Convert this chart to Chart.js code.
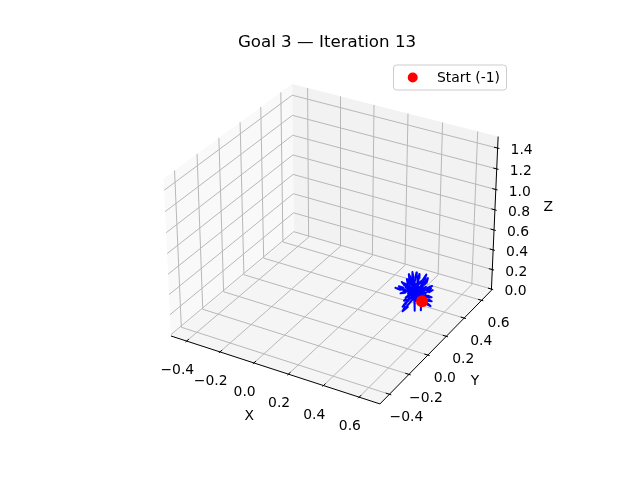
<!DOCTYPE html>
<html>
<head>
<meta charset="utf-8">
<title>Goal 3 — Iteration 13</title>
<script src="https://cdn.jsdelivr.net/npm/chart.js@4.4.1/dist/chart.umd.min.js"></script>
<style>
  html, body { margin: 0; padding: 0; background: #ffffff; }
  #wrap { width: 640px; height: 480px; }
</style>
</head>
<body>
<div id="wrap"><canvas id="chart" width="640" height="480"></canvas></div>
<script>
// pane box limits of the 3D axes
const xLim = [-0.495, 0.715];
const yLim = [-0.495, 0.715];
const zLim = [-0.013, 1.51];

// ticks and their labels
const xTicks = [-0.4, -0.2, 0.0, 0.2, 0.4, 0.6];
const yTicks = [-0.4, -0.2, 0.0, 0.2, 0.4, 0.6];
const zTicks = [0.0, 0.2, 0.4, 0.6, 0.8, 1.0, 1.2, 1.4];
const xTickLabels = ['−0.4', '−0.2', '0.0', '0.2', '0.4', '0.6'];
const yTickLabels = ['−0.4', '−0.2', '0.0', '0.2', '0.4', '0.6'];
const zTickLabels = ['0.0', '0.2', '0.4', '0.6', '0.8', '1.0', '1.2', '1.4'];

// start point (index -1)
const startX = [0.5];
const startY = [0.34];
const startZ = [0.1];

// quiver: arrow tails and direction vectors
const tailX = [0.46, 0.47, 0.45, 0.48, 0.46, 0.49, 0.44, 0.47, 0.45, 0.48,
               0.46, 0.47, 0.49, 0.45, 0.47, 0.46, 0.45, 0.47, 0.46, 0.48,
               0.44, 0.47, 0.46, 0.45, 0.48, 0.46, 0.47, 0.45, 0.49, 0.44,
               0.46, 0.47, 0.45, 0.48, 0.46, 0.47, 0.45, 0.48, 0.46, 0.47,
               0.45, 0.46, 0.44, 0.46, 0.45, 0.47, 0.44, 0.46, 0.45, 0.47,
               0.43, 0.46, 0.45, 0.47, 0.44, 0.46, 0.45, 0.46, 0.47, 0.44,
               0.45, 0.46];
const tailY = [0.34, 0.35, 0.33, 0.36, 0.34, 0.35, 0.35, 0.33, 0.36, 0.32,
               0.37, 0.34, 0.33, 0.34, 0.35, 0.32, 0.35, 0.36, 0.33, 0.34,
               0.33, 0.32, 0.36, 0.33, 0.35, 0.35, 0.33, 0.36, 0.34, 0.34,
               0.33, 0.37, 0.32, 0.33, 0.34, 0.36, 0.35, 0.35, 0.31, 0.34,
               0.35, 0.34, 0.36, 0.36, 0.33, 0.35, 0.34, 0.37, 0.34, 0.33,
               0.35, 0.35, 0.36, 0.34, 0.33, 0.33, 0.37, 0.34, 0.36, 0.35,
               0.35, 0.36];
const tailZ = [0.16, 0.15, 0.17, 0.14, 0.13, 0.12, 0.18, 0.15, 0.16, 0.17,
               0.12, 0.19, 0.13, 0.14, 0.17, 0.15, 0.15, 0.16, 0.18, 0.13,
               0.16, 0.14, 0.14, 0.12, 0.18, 0.17, 0.12, 0.18, 0.15, 0.15,
               0.14, 0.15, 0.16, 0.16, 0.19, 0.13, 0.13, 0.15, 0.16, 0.14,
               0.19, 0.21, 0.17, 0.20, 0.18, 0.20, 0.20, 0.18, 0.22, 0.17,
               0.16, 0.15, 0.14, 0.16, 0.19, 0.20, 0.16, 0.17, 0.18, 0.21,
               0.18, 0.17];
const vecU = [-0.05, 0.03, -0.09, 0.08, -0.04, 0.02, -0.02, 0.06, -0.07, -0.03,
              0.05, -0.06, 0.07, -0.02, 0.01, 0.04, -0.08, 0.04, -0.03, 0.05,
              -0.05, -0.01, 0.03, -0.06, 0.06, -0.04, 0.02, -0.06, 0.05, -0.03,
              0.02, -0.05, -0.04, 0.07, 0.01, -0.03, 0.03, -0.07, 0.03, -0.02,
              -0.04, 0.02, -0.05, -0.02, 0.03, 0.04, -0.03, 0.03, -0.02, -0.04,
              -0.03, 0.05, -0.04, 0.03, -0.02, 0.02, 0.04, -0.05, 0.02, 0.03,
              -0.03, 0.00];
const vecV = [0.02, 0.05, -0.02, -0.03, -0.06, -0.04, 0.08, 0.04, 0.05, -0.05,
              0.06, 0.03, -0.01, -0.08, 0.07, -0.07, 0.01, 0.02, 0.04, 0.05,
              -0.04, -0.06, -0.02, 0.02, 0.01, -0.03, 0.06, -0.05, -0.05, 0.07,
              -0.03, -0.01, 0.03, 0.03, -0.04, 0.05, -0.06, -0.02, 0.04, 0.03,
              0.02, 0.03, -0.01, 0.04, -0.03, 0.01, -0.03, 0.03, 0.02, 0.03,
              0.03, -0.02, -0.03, 0.04, 0.05, -0.04, -0.02, 0.01, 0.05, -0.02,
              0.03, 0.02];
const vecW = [0.15, 0.13, 0.02, 0.04, -0.12, -0.08, 0.09, -0.02, -0.05, 0.11,
              0.06, 0.07, -0.03, -0.06, 0.12, 0.05, 0.06, -0.09, 0.10, -0.06,
              0.08, 0.09, 0.10, -0.08, 0.05, 0.13, -0.10, -0.03, 0.03, -0.04,
              -0.11, 0.09, -0.07, 0.06, 0.08, -0.06, 0.04, 0.05, 0.07, -0.09,
              0.05, 0.06, 0.03, 0.07, -0.05, -0.04, 0.06, 0.05, 0.07, -0.05,
              0.04, 0.02, -0.04, 0.05, -0.03, 0.05, -0.05, -0.02, -0.03, 0.06,
              0.14, 0.15];

// ---- view (elev 30, azim -60, perspective) ----
const elev = 30 * Math.PI / 180;
const azim = -60 * Math.PI / 180;
const dist = 10;
const aspect = [4, 4, 3];
const aspNorm = Math.hypot(aspect[0], aspect[1], aspect[2]);
const box = aspect.map(a => a / aspNorm * 1.8294640721620434);
const R = box.map(b => b / 2);

const dot = (a, b) => a[0] * b[0] + a[1] * b[1] + a[2] * b[2];
const cross = (a, b) => [a[1] * b[2] - a[2] * b[1], a[2] * b[0] - a[0] * b[2], a[0] * b[1] - a[1] * b[0]];
const unit = a => { const n = Math.hypot(a[0], a[1], a[2]); return a.map(c => c / n); };

const w = [Math.cos(elev) * Math.cos(azim), Math.cos(elev) * Math.sin(azim), Math.sin(elev)];
const eye = R.map((r, i) => r + dist * w[i]);
const u = unit(cross([0, 0, 1], w));
const v = cross(w, u);

function project(x, y, z) {
  const p = [
    (x - xLim[0]) / (xLim[1] - xLim[0]) * box[0],
    (y - yLim[0]) / (yLim[1] - yLim[0]) * box[1],
    (z - zLim[0]) / (zLim[1] - zLim[0]) * box[2]
  ];
  const d = [p[0] - eye[0], p[1] - eye[1], p[2] - eye[2]];
  const depth = -dot(d, w);
  return { x: dot(d, u) / depth, y: dot(d, v) / depth };
}

// where the projected view sits on the canvas
const viewScale = 2096;
const viewCx = 334;
const viewCy = 236.6;

// ---- datasets ----
const datasets = [];

function addLine(pts, color, width, order, extra) {
  datasets.push(Object.assign({
    data: pts.map(p => project(p[0], p[1], p[2])),
    showLine: true,
    borderColor: color,
    borderWidth: width,
    pointRadius: 0,
    fill: false,
    order: order
  }, extra || {}));
}

function addPane(pts, color) {
  addLine(pts.concat([pts[0]]), color, 0, 9, { fill: 'shape', backgroundColor: color });
}

const [x0, x1] = xLim, [y0, y1] = yLim, [z0, z1] = zLim;

// panes
addPane([[x0, y0, z0], [x0, y1, z0], [x0, y1, z1], [x0, y0, z1]], '#f9f9f9');
addPane([[x0, y1, z0], [x1, y1, z0], [x1, y1, z1], [x0, y1, z1]], '#f2f2f2');
addPane([[x0, y0, z0], [x1, y0, z0], [x1, y1, z0], [x0, y1, z0]], '#f5f5f5');

// grid lines
const gridColor = '#b8b8b8';
xTicks.forEach(t => addLine([[t, y0, z0], [t, y1, z0]], gridColor, 1, 8));
yTicks.forEach(t => addLine([[x0, t, z0], [x1, t, z0]], gridColor, 1, 8));
yTicks.forEach(t => addLine([[x0, t, z0], [x0, t, z1]], gridColor, 1, 8));
zTicks.forEach(t => addLine([[x0, y0, t], [x0, y1, t]], gridColor, 1, 8));
xTicks.forEach(t => addLine([[t, y1, z0], [t, y1, z1]], gridColor, 1, 8));
zTicks.forEach(t => addLine([[x0, y1, t], [x1, y1, t]], gridColor, 1, 8));

// axis lines
addLine([[x0, y0, z0], [x1, y0, z0]], '#000000', 1, 7);
addLine([[x1, y0, z0], [x1, y1, z0]], '#000000', 1, 7);
addLine([[x1, y1, z0], [x1, y1, z1]], '#000000', 1, 7);

// tick marks
const dx = (x1 - x0) / 12, dy = (y1 - y0) / 12;
xTicks.forEach(t => addLine([[t, y0 + 0.2 * dy, z0], [t, y0 - 0.1 * dy, z0]], '#000000', 1, 7));
yTicks.forEach(t => addLine([[x1 - 0.2 * dx, t, z0], [x1 + 0.1 * dx, t, z0]], '#000000', 1, 7));
zTicks.forEach(t => addLine([[x1 - 0.2 * dx, y1, t], [x1 + 0.1 * dx, y1, t]], '#000000', 1, 7));

// quiver arrows (tail -> tip, two head barbs at 15 degrees, ratio 0.3)
function headDirs(U) {
  const n = Math.hypot(U[0], U[1]) || 1;
  const xp = U[1] / n, yp = -U[0] / n;
  const c = Math.cos(15 * Math.PI / 180);
  return [1, -1].map(sg => {
    const s = sg * Math.sin(15 * Math.PI / 180);
    const M = [
      [c + xp * xp * (1 - c), xp * yp * (1 - c), yp * s],
      [yp * xp * (1 - c), c + yp * yp * (1 - c), -xp * s],
      [-yp * s, xp * s, c]
    ];
    return M.map(row => dot(row, U));
  });
}

tailX.forEach((tx, i) => {
  const U = [vecU[i], vecV[i], vecW[i]];
  const tail = [tx, tailY[i], tailZ[i]];
  const tip = [tail[0] + U[0], tail[1] + U[1], tail[2] + U[2]];
  const [hp, hn] = headDirs(U);
  const h1 = tip.map((c, k) => c - 0.3 * hp[k]);
  const h2 = tip.map((c, k) => c - 0.3 * hn[k]);
  addLine([tail, tip, h1, tip, h2], '#0000ff', 2, 3, { borderCapStyle: 'round', borderJoinStyle: 'round' });
});

// start point
datasets.push({
  label: 'Start (-1)',
  data: startX.map((sx, i) => project(sx, startY[i], startZ[i])),
  showLine: false,
  pointRadius: 6,
  pointBackgroundColor: '#ff0000',
  pointBorderWidth: 0,
  order: 1
});

// ---- text: title, tick labels, axis labels, legend ----
const FONT = "'DejaVu Sans', sans-serif";

const textPlugin = {
  id: 'text3d',
  afterDraw(chart) {
    const ctx = chart.ctx;
    const sx = chart.scales.x, sy = chart.scales.y;
    const toPx = p => [sx.getPixelForValue(p.x), sy.getPixelForValue(p.y)];

    ctx.save();
    ctx.fillStyle = '#000000';
    ctx.textAlign = 'center';
    ctx.textBaseline = 'middle';

    ctx.font = '13.9px ' + FONT;
    xTicks.forEach((t, i) => {
      const [px, py] = toPx(project(t, y0, z0));
      ctx.fillText(xTickLabels[i], px - 9.3, py + 29.5);
    });
    yTicks.forEach((t, i) => {
      const [px, py] = toPx(project(x1, t, z0));
      ctx.fillText(yTickLabels[i], px + 17, py + 23.5);
    });
    zTicks.forEach((t, i) => {
      const [px, py] = toPx(project(x1, y1, t));
      ctx.fillText(zTickLabels[i], px + 24, py + 2.7);
    });

    // axis labels
    let a = toPx(project((x0 + x1) / 2, y0, z0));
    ctx.fillText('X', a[0] - 23.5, a[1] + 47.5);
    a = toPx(project(x1, (y0 + y1) / 2, z0));
    ctx.fillText('Y', a[0] + 37, a[1] + 36.5);
    a = toPx(project(x1, y1, (z0 + z1) / 2));
    ctx.fillText('Z', a[0] + 53.5, a[1] - 8);

    // title
    ctx.font = '16.67px ' + FONT;
    ctx.fillText('Goal 3 — Iteration 13', 327, 43);

    // legend
    const lx = 393.5, ly = 65, lw = 113, lh = 25;
    ctx.beginPath();
    ctx.roundRect(lx, ly, lw, lh, 3);
    ctx.fillStyle = 'rgba(255,255,255,0.8)';
    ctx.fill();
    ctx.strokeStyle = '#cccccc';
    ctx.lineWidth = 1;
    ctx.stroke();
    ctx.beginPath();
    ctx.arc(412.7, 77.5, 5, 0, Math.PI * 2);
    ctx.fillStyle = '#ff0000';
    ctx.fill();
    ctx.fillStyle = '#000000';
    ctx.textAlign = 'left';
    ctx.font = '13.9px ' + FONT;
    ctx.fillText('Start (-1)', 437, 78);
    ctx.restore();
  }
};

new Chart(document.getElementById('chart').getContext('2d'), {
  type: 'scatter',
  data: { datasets: datasets },
  options: {
    responsive: false,
    devicePixelRatio: 1,
    animation: false,
    events: [],
    layout: { padding: 0, autoPadding: false },
    plugins: {
      legend: { display: false },
      tooltip: { enabled: false },
      title: { display: false }
    },
    scales: {
      x: {
        type: 'linear',
        display: false,
        min: -viewCx / viewScale,
        max: (640 - viewCx) / viewScale
      },
      y: {
        type: 'linear',
        display: false,
        min: -(480 - viewCy) / viewScale,
        max: viewCy / viewScale
      }
    }
  },
  plugins: [textPlugin]
});
</script>
</body>
</html>
